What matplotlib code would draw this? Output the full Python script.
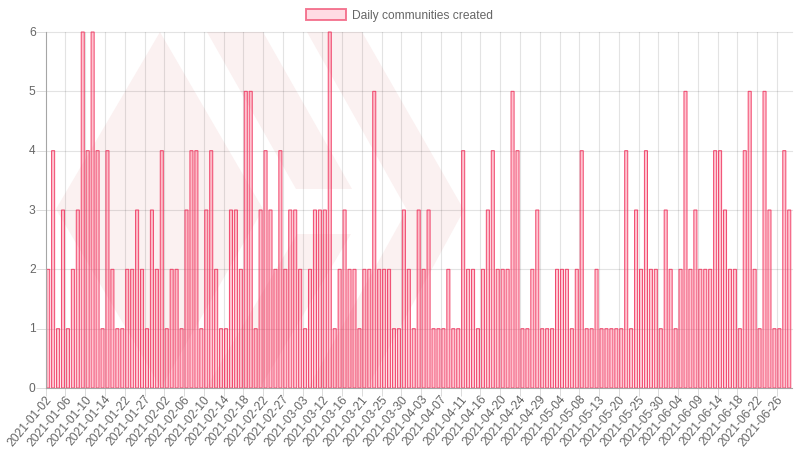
import numpy as np
import matplotlib
matplotlib.use("Agg")
import matplotlib.pyplot as plt
from matplotlib.patches import Polygon, Patch
from matplotlib.transforms import ScaledTranslation

series_name = "Daily communities created"
counts = [
    2, 4, 1, 3, 1, 2, 3, 6, 4, 6, 4, 1, 4, 2, 1, 1, 2, 2, 3, 2,
    1, 3, 2, 4, 1, 2, 2, 1, 3, 4, 4, 1, 3, 4, 2, 1, 1, 3, 3, 2,
    5, 5, 1, 3, 4, 3, 2, 4, 2, 3, 3, 2, 1, 2, 3, 3, 3, 6, 1, 2,
    3, 2, 2, 1, 2, 2, 5, 2, 2, 2, 1, 1, 3, 2, 1, 3, 2, 3, 1, 1,
    1, 2, 1, 1, 4, 2, 2, 1, 2, 3, 4, 2, 2, 2, 5, 4, 1, 1, 2, 3,
    1, 1, 1, 2, 2, 2, 1, 2, 4, 1, 1, 2, 1, 1, 1, 1, 1, 4, 1, 3,
    2, 4, 2, 2, 1, 3, 2, 1, 2, 5, 2, 3, 2, 2, 2, 4, 4, 3, 2, 2,
    1, 4, 5, 2, 1, 5, 3, 1, 1, 4, 3,
]
tick_labels = [
    "2021-01-02", "2021-01-06", "2021-01-10", "2021-01-14", "2021-01-22",
    "2021-01-27", "2021-02-02", "2021-02-06", "2021-02-10", "2021-02-14",
    "2021-02-18", "2021-02-22", "2021-02-27", "2021-03-03", "2021-03-12",
    "2021-03-16", "2021-03-21", "2021-03-25", "2021-03-30", "2021-04-03",
    "2021-04-07", "2021-04-11", "2021-04-16", "2021-04-20", "2021-04-24",
    "2021-04-29", "2021-05-04", "2021-05-08", "2021-05-13", "2021-05-20",
    "2021-05-25", "2021-05-30", "2021-06-04", "2021-06-09", "2021-06-14",
    "2021-06-18", "2021-06-22", "2021-06-26",
]
tick_step = 4

W, H = 798, 450
plt.rcParams["font.family"] = ["Liberation Sans", "DejaVu Sans"]
fig = plt.figure(figsize=(W / 100, H / 100), dpi=100)
L, R, T, B = 45.7, 791.7, 32.0, 388.0
ax = fig.add_axes([L / W, 1 - B / H, (R - L) / W, (B - T) / H])
ax.patch.set_alpha(0)

x = np.arange(len(counts))
ax.set_xlim(-0.5, len(counts) - 0.5)
ax.set_ylim(0, 6)

# Pale logo watermark behind the plot (figure pixels, y measured from the top)
shapes = [
    [(56, 209), (160, 32), (263, 209), (161, 388)],
    [(207, 32), (263, 32), (352, 189), (296, 189)],
    [(307, 32), (362, 32), (464, 210), (367, 388), (308, 388), (407, 210)],
    [(297, 234), (351, 234), (260, 388), (206, 388)],
]
for s in shapes:
    pts = [(px / W, 1 - py / H) for px, py in s]
    ax.add_patch(Polygon(pts, closed=True, transform=fig.transFigure,
                         facecolor="#fbf1f1", edgecolor="none", zorder=0, clip_on=False))

ax.set_axisbelow(False)
grid_pos = x[::tick_step] - 0.5
ax.set_xticks(grid_pos)
ax.set_xticklabels(tick_labels)
ax.set_yticks(range(0, 7))
grid_col = (0, 0, 0, 0.11)
for g in grid_pos[1:]:
    ax.axvline(g, color=grid_col, lw=0.8, zorder=1)
for v in range(1, 7):
    ax.axhline(v, color=grid_col, lw=0.8, zorder=1, clip_on=False)

bars = ax.bar(x, counts, width=0.62, facecolor=(1.0, 0.39, 0.52, 0.38),
              edgecolor=(0.94, 0.23, 0.39, 0.9), linewidth=0.72, zorder=2, clip_on=False)
for b in bars:
    b.set_snap(False)

for side in ("top", "right"):
    ax.spines[side].set_visible(False)
for side in ("left", "bottom"):
    ax.spines[side].set_color("#a6a6a6")
    ax.spines[side].set_linewidth(0.8)
    ax.spines[side].set_zorder(3)

ax.tick_params(axis="x", length=6, width=0.72, color="#dcdcdc", pad=1.5,
               labelsize=8.64, labelcolor="#666666")
ax.tick_params(axis="y", length=7.2, width=0.72, color="#dcdcdc", pad=0,
               labelsize=8.64, labelcolor="#666666")
x_offset = ScaledTranslation(-0.5 / 100, 5 / 100, fig.dpi_scale_trans)
for lab in ax.get_xticklabels():
    lab.set_rotation(50)
    lab.set_ha("right")
    lab.set_va("top")
    lab.set_rotation_mode("anchor")
    lab.set_transform(lab.get_transform() + x_offset)
y_offset = ScaledTranslation(0, 1 / 100, fig.dpi_scale_trans)
for lab in ax.get_yticklabels():
    lab.set_transform(lab.get_transform() + y_offset)

handle = Patch(facecolor=(1.0, 0.39, 0.52, 0.22), edgecolor=(0.95, 0.35, 0.48, 0.8),
               linewidth=1.4, label=series_name)
fig.legend(handles=[handle], loc="center", bbox_to_anchor=(399 / W, 1 - 15.5 / H),
           frameon=False, fontsize=8.64, labelcolor="#666666", handlelength=3.33,
           handleheight=0.95, handletextpad=0.5, borderpad=0, borderaxespad=0)

fig.savefig("out.png", dpi=100)
